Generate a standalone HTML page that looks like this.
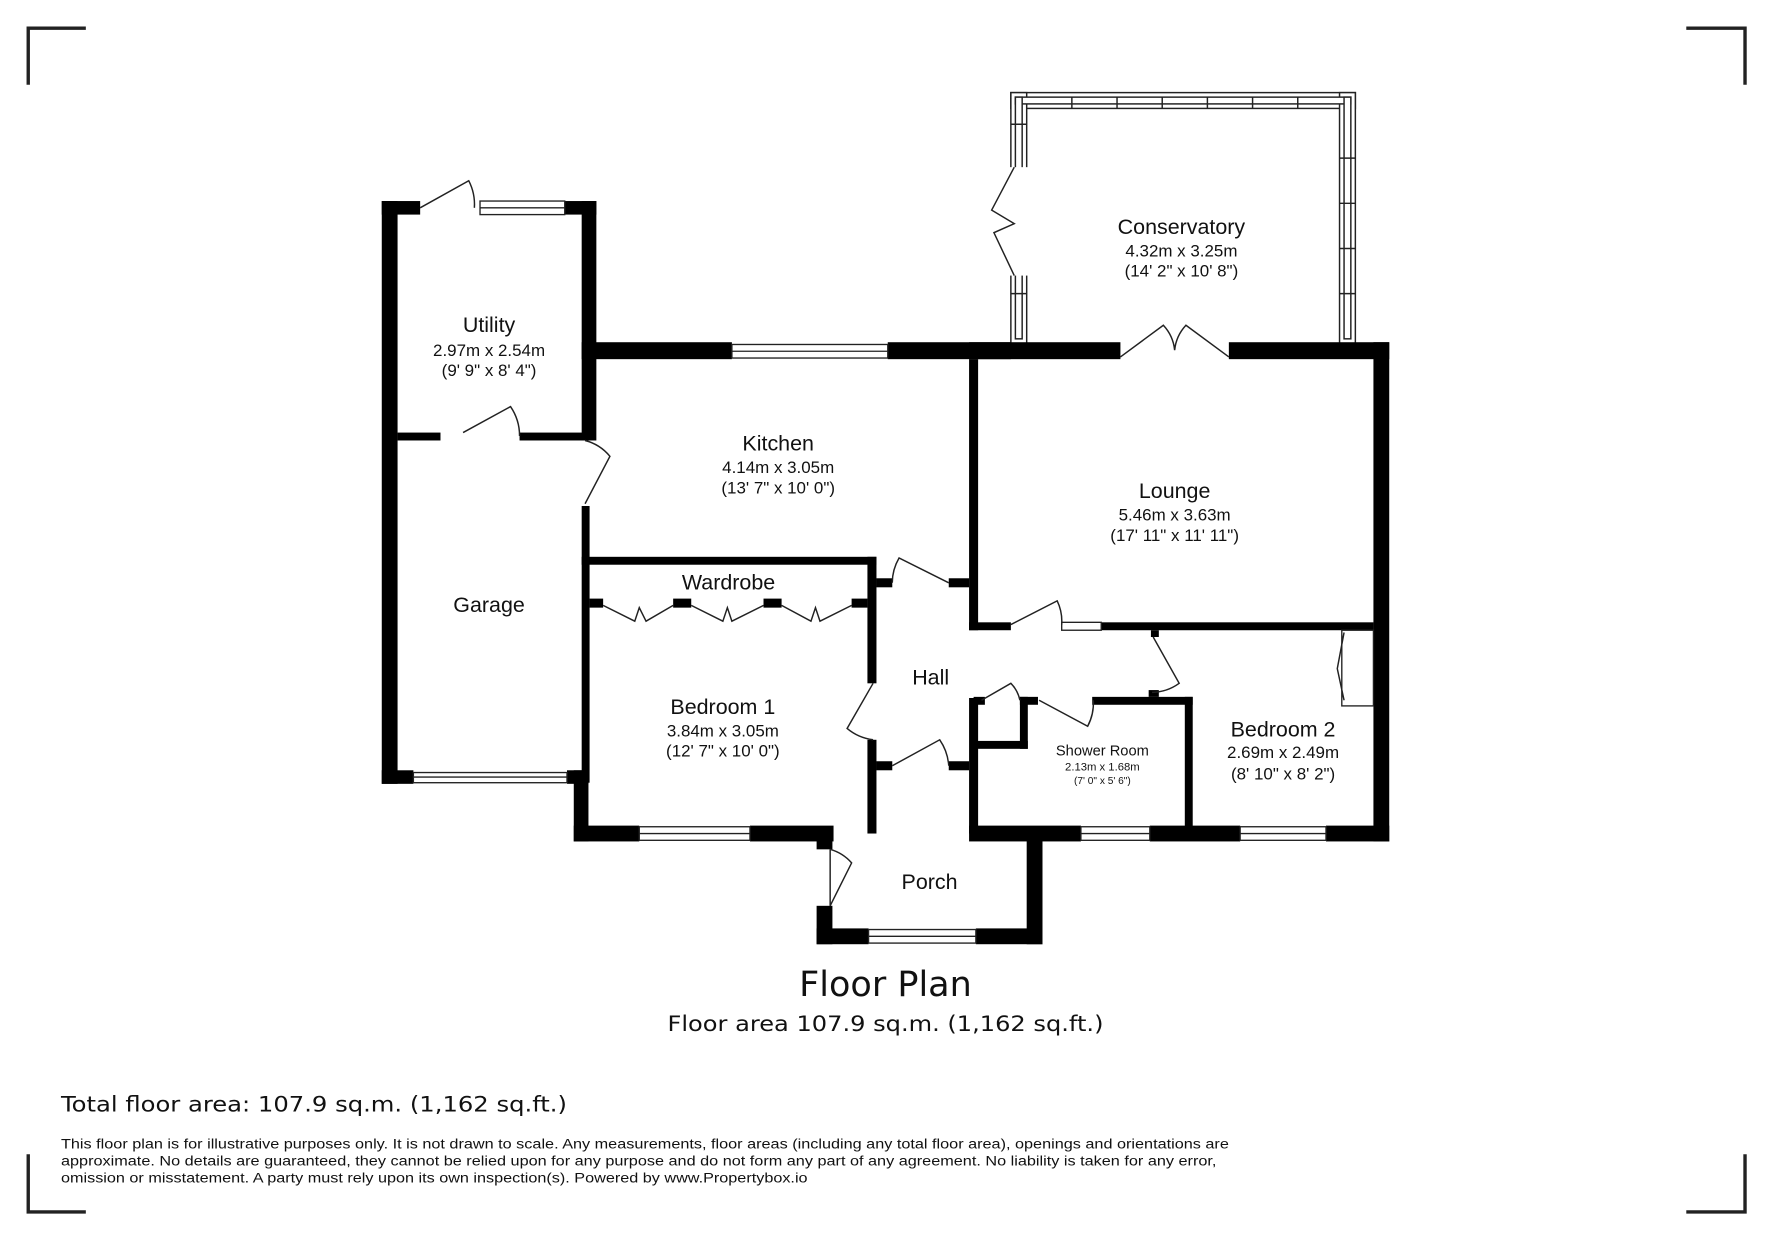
<!DOCTYPE html>
<html><head><style>
html,body{margin:0;padding:0;background:#fff;}
svg{display:block;}
text{font-family:"Liberation Sans",Arial,sans-serif;fill:#111;}
.v{font-family:"DejaVu Sans","Liberation Sans",sans-serif;}
</style></head><body>
<svg width="1771" height="1239" viewBox="0 0 1568 1097" preserveAspectRatio="none" xmlns="http://www.w3.org/2000/svg">
<rect width="1568" height="1097" fill="#fff"/>
<g stroke="#222" stroke-width="3" fill="none">
<path d="M25 75V25H76"/><path d="M1493 25H1545V75"/><path d="M25 1022V1073H76"/><path d="M1493 1073H1545V1022"/>
</g>
<g fill="#fff" stroke="#222" stroke-width="1.3">
<rect x="895" y="82" width="305" height="14"/>
<rect x="895" y="82" width="14" height="222"/>
<rect x="1186" y="82" width="14" height="222"/>
<rect x="899" y="86" width="297" height="6"/>
<rect x="899" y="86" width="6" height="214"/>
<rect x="1190" y="86" width="6" height="214"/>
</g>
<g stroke="#222" stroke-width="1.3">
<path d="M949 86v10M989 86v10M1029 86v10M1069 86v10M1109 86v10M1149 86v10"/>
<path d="M1186 140h14M1186 180h14M1186 220h14M1186 260h14M895 110h14M895 260h14"/>
</g>
<rect x="893" y="148" width="18" height="96" fill="#fff"/>
<path d="M898 148L878 186L898 198L880 206L898 244" stroke="#222" stroke-width="1.3" fill="none"/>
<g fill="#000">
<rect x="338" y="178" width="14" height="516"/>
<rect x="338" y="178" width="34" height="12"/>
<rect x="500" y="178" width="28" height="12"/>
<rect x="515" y="178" width="13" height="212"/>
<rect x="352" y="383" width="38" height="7"/>
<rect x="460" y="383" width="62" height="7"/>
<rect x="515" y="448" width="7" height="245"/>
<rect x="338" y="682" width="28" height="12"/>
<rect x="502" y="682" width="19" height="12"/>
<rect x="515" y="303" width="133" height="15"/>
<rect x="786" y="303" width="109" height="15"/>
<rect x="508" y="682" width="13" height="63"/>
<rect x="508" y="731" width="58" height="14"/>
<rect x="664" y="731" width="74" height="14"/>
<rect x="515" y="493" width="261" height="7"/>
<rect x="768" y="493" width="8" height="112"/>
<rect x="768" y="655" width="8" height="83"/>
<rect x="522" y="530" width="12" height="8"/><rect x="596" y="530" width="16" height="8"/><rect x="676" y="530" width="16" height="8"/><rect x="754" y="530" width="14" height="8"/>
<rect x="776" y="512" width="14" height="8"/><rect x="840" y="512" width="18" height="8"/>
<rect x="776" y="674" width="14" height="8"/><rect x="840" y="674" width="18" height="8"/>
<rect x="858" y="318" width="8" height="240"/>
<rect x="858" y="303" width="134" height="15"/>
<rect x="1088" y="303" width="142" height="15"/>
<rect x="1216" y="303" width="14" height="442"/>
<rect x="858" y="551" width="37" height="7"/>
<rect x="975" y="551" width="241" height="7"/>
<rect x="858" y="618" width="8" height="120"/>
<rect x="858" y="731" width="99" height="14"/>
<rect x="1018" y="731" width="80" height="14"/>
<rect x="1174" y="731" width="56" height="14"/>
<rect x="723" y="738" width="14" height="14"/>
<rect x="723" y="802" width="14" height="34"/>
<rect x="723" y="822" width="46" height="14"/>
<rect x="864" y="822" width="59" height="14"/>
<rect x="909" y="738" width="14" height="98"/>
<rect x="862" y="617" width="10" height="7"/>
<rect x="903" y="617" width="16" height="7"/>
<rect x="967" y="617" width="89" height="7"/>
<rect x="1049" y="617" width="7" height="121"/>
<rect x="903" y="617" width="7" height="46"/>
<rect x="862" y="656" width="48" height="7"/>
<rect x="1019" y="558" width="7" height="6"/><rect x="1017" y="611" width="9" height="6"/>
</g>
<g fill="#fff" stroke="#222" stroke-width="1.2">
<rect x="425" y="178" width="75" height="12"/><line x1="425" y1="184" x2="500" y2="184"/>
<rect x="648" y="305" width="138" height="12"/><line x1="648" y1="311" x2="786" y2="311"/>
<rect x="366" y="684" width="136" height="9"/><line x1="366" y1="688" x2="502" y2="688"/>
<rect x="566" y="732" width="98" height="12"/><line x1="566" y1="738" x2="664" y2="738"/>
<rect x="769" y="823" width="95" height="12"/><line x1="769" y1="829" x2="864" y2="829"/>
<rect x="957" y="732" width="61" height="12"/><line x1="957" y1="738" x2="1018" y2="738"/>
<rect x="1098" y="732" width="76" height="12"/><line x1="1098" y1="738" x2="1174" y2="738"/>
<rect x="940" y="551" width="35" height="7"/>
<rect x="1188" y="558" width="28" height="67"/>
</g>
<g stroke="#222" stroke-width="1.3" fill="none">
<path d="M372 184L415 160A46 46 0 0 1 420 184"/>
<path d="M410 383L452 360A46 46 0 0 1 460 386"/>
<path d="M518 446L540 404A42 42 0 0 0 518 390"/>
<path d="M992 316L1030 288A38 38 0 0 1 1040 310M1088 316L1050 288A38 38 0 0 0 1040 310"/>
<path d="M840 516L796 494A44 44 0 0 0 790 516"/>
<path d="M895 553L936 532A42 42 0 0 1 940 553"/>
<path d="M1021 564L1044 605A42 42 0 0 1 1020 613"/>
<path d="M773 605L750 645A44 44 0 0 0 773 655"/>
<path d="M790 678L832 655A46 46 0 0 1 840 678"/>
<path d="M869 620L895 605A30 30 0 0 1 903 620"/>
<path d="M920 620L963 643A44 44 0 0 0 968 620"/>
<path d="M735 752V802L754 764A40 40 0 0 0 735 752"/>
<path d="M1190 560L1184 592L1190 620"/>
<path d="M534 536L562 550L566 538L572 550L596 536M612 536L640 550L644 538L648 550L676 536M692 536L718 550L722 538L726 550L754 536"/>
</g>
<g text-anchor="middle">
<text x="433" y="294" font-size="19">Utility</text>
<text x="433" y="315" font-size="15">2.97m x 2.54m</text>
<text x="433" y="333" font-size="15">(9' 9" x 8' 4")</text>
<text x="433" y="542" font-size="19">Garage</text>
<text x="689" y="399" font-size="19">Kitchen</text>
<text x="689" y="419" font-size="15">4.14m x 3.05m</text>
<text x="689" y="437" font-size="15">(13' 7" x 10' 0")</text>
<text x="1046" y="207" font-size="19">Conservatory</text>
<text x="1046" y="227" font-size="15">4.32m x 3.25m</text>
<text x="1046" y="245" font-size="15">(14' 2" x 10' 8")</text>
<text x="1040" y="441" font-size="19">Lounge</text>
<text x="1040" y="461" font-size="15">5.46m x 3.63m</text>
<text x="1040" y="479" font-size="15">(17' 11" x 11' 11")</text>
<text x="645" y="522" font-size="19">Wardrobe</text>
<text x="824" y="606" font-size="19">Hall</text>
<text x="640" y="632" font-size="19">Bedroom 1</text>
<text x="640" y="652" font-size="15">3.84m x 3.05m</text>
<text x="640" y="670" font-size="15">(12' 7" x 10' 0")</text>
<text x="976" y="669" font-size="13">Shower Room</text>
<text x="976" y="682" font-size="10">2.13m x 1.68m</text>
<text x="976" y="694" font-size="9">(7' 0" x 5' 6")</text>
<text x="1136" y="652" font-size="19">Bedroom 2</text>
<text x="1136" y="671" font-size="15">2.69m x 2.49m</text>
<text x="1136" y="690" font-size="15">(8' 10" x 8' 2")</text>
<text x="823" y="787" font-size="19">Porch</text>
<text x="784" y="882" font-size="31" class="v">Floor Plan</text>
</g>
<text x="591" y="913" font-size="19" class="v" textLength="386" lengthAdjust="spacingAndGlyphs">Floor area 107.9 sq.m. (1,162 sq.ft.)</text>
<text x="54" y="984" font-size="19" class="v" textLength="448" lengthAdjust="spacingAndGlyphs">Total floor area: 107.9 sq.m. (1,162 sq.ft.)</text>
<g font-size="12.5" class="v">
<text x="54" y="1017" textLength="1034" lengthAdjust="spacingAndGlyphs">This floor plan is for illustrative purposes only. It is not drawn to scale. Any measurements, floor areas (including any total floor area), openings and orientations are</text>
<text x="54" y="1032" textLength="1023" lengthAdjust="spacingAndGlyphs">approximate. No details are guaranteed, they cannot be relied upon for any purpose and do not form any part of any agreement. No liability is taken for any error,</text>
<text x="54" y="1047" textLength="661" lengthAdjust="spacingAndGlyphs">omission or misstatement. A party must rely upon its own inspection(s). Powered by www.Propertybox.io</text>
</g>
</svg>
</body></html>
